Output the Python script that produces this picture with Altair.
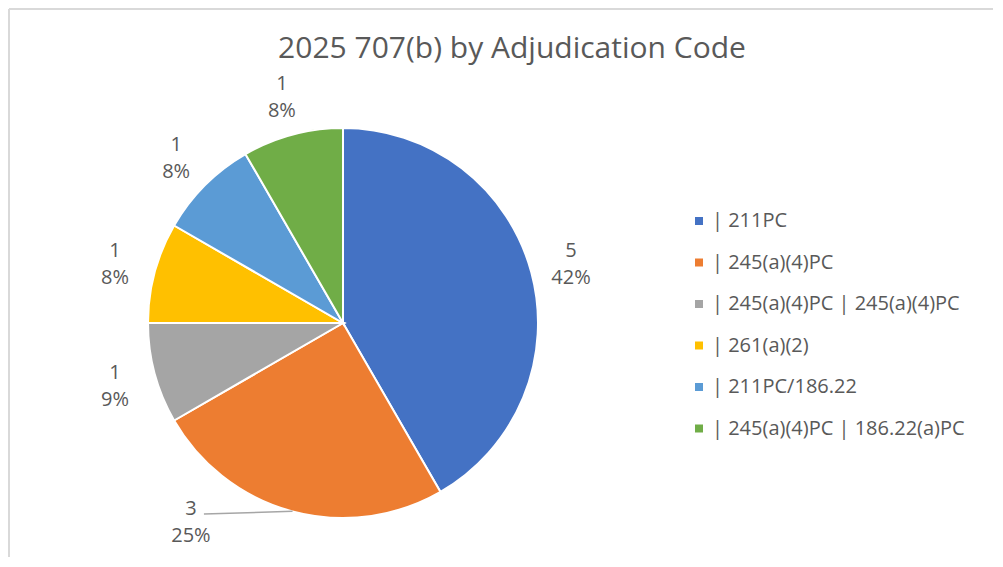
import math
import altair as alt
import pandas as pd

# ---- data ----
categories = [
    "| 211PC",
    "| 245(a)(4)PC",
    "| 245(a)(4)PC | 245(a)(4)PC",
    "| 261(a)(2)",
    "| 211PC/186.22",
    "| 245(a)(4)PC | 186.22(a)PC",
]
counts = [5, 3, 1, 1, 1, 1]
percent_labels = ["42%", "25%", "9%", "8%", "8%", "8%"]
colors = ["#4472C4", "#ED7D31", "#A5A5A5", "#FFC000", "#5B9BD5", "#70AD47"]
title_text = "2025 707(b) by Adjudication Code"

# ---- layout ----
W, H = 985, 549
CX, CY = 335, 315
R = 195
LABEL_R = 236
LINE_H = 27
MOVED = 1  # the orange label is pulled out with a leader line
MOVED_DX, MOVED_DY = -91, -42
FONT = "Open Sans"
TXT = "#595959"

labels = [f"{c}\n{p}" for c, p in zip(counts, percent_labels)]
df = pd.DataFrame({
    "cat": categories,
    "value": counts,
    "order": list(range(len(counts))),
    "lab_main": [("" if i == MOVED else l) for i, l in enumerate(labels)],
    "lab_moved": [(l if i == MOVED else "") for i, l in enumerate(labels)],
})

# leader line for the moved label, derived from the slice's mid angle
total = sum(counts)
mid = (sum(counts[:MOVED]) + counts[MOVED] / 2) / total * 2 * math.pi
lab_x = CX + LABEL_R * math.sin(mid) + MOVED_DX
lab_y = CY - LABEL_R * math.cos(mid) + MOVED_DY
leader = pd.DataFrame({
    "x": [lab_x + 13], "y": [lab_y + 5],
    "x2": [CX + R * math.sin(mid)], "y2": [CY - R * math.cos(mid)],
})

base = alt.Chart(df).encode(
    theta=alt.Theta("value:Q", stack=True),
    order=alt.Order("order:Q"),
)

arc = base.mark_arc(outerRadius=R, stroke="white", strokeWidth=2).encode(
    x=alt.value(CX), y=alt.value(CY),
    color=alt.Color(
        "cat:N",
        scale=alt.Scale(domain=categories, range=colors),
        sort=categories,
        legend=alt.Legend(
            title=None, orient="none", legendX=681, legendY=203,
            symbolType="square", symbolSize=64, symbolStrokeWidth=0,
            labelFontSize=20, labelFont=FONT, labelColor=TXT,
            labelOffset=3, rowPadding=21.5, padding=0, labelLimit=400,
        ),
    ),
)

text_main = base.mark_text(
    radius=LABEL_R, fontSize=20, font=FONT, color=TXT,
    lineBreak="\n", lineHeight=LINE_H, align="center", baseline="middle",
    dy=-11,
).encode(x=alt.value(CX), y=alt.value(CY), text="lab_main:N")

text_moved = base.mark_text(
    radius=LABEL_R, fontSize=20, font=FONT, color=TXT,
    lineBreak="\n", lineHeight=LINE_H, align="center", baseline="middle",
    dx=MOVED_DX, dy=MOVED_DY,
).encode(x=alt.value(CX), y=alt.value(CY), text="lab_moved:N")

lead = alt.Chart(leader).mark_rule(color="#A6A6A6", strokeWidth=1.5).encode(
    x=alt.X("x:Q", scale=None), y=alt.Y("y:Q", scale=None),
    x2="x2:Q", y2="y2:Q",
)

title = alt.Chart(pd.DataFrame({"t": [title_text]})).mark_text(
    fontSize=30, font=FONT, color=TXT, align="center", baseline="middle",
).encode(x=alt.value(504), y=alt.value(41), text="t:N")

border_l = alt.Chart(pd.DataFrame({"a": [0]})).mark_rule(
    color="#D9D9D9", strokeWidth=2
).encode(x=alt.value(1), y=alt.value(1), y2=alt.value(H))
border_t = alt.Chart(pd.DataFrame({"a": [0]})).mark_rule(
    color="#D9D9D9", strokeWidth=2
).encode(x=alt.value(1), x2=alt.value(W), y=alt.value(1))

chart = alt.layer(
    border_l, border_t, arc, lead, text_main, text_moved, title
).properties(
    width=W, height=H,
    autosize=alt.AutoSizeParams(type="none"),
    padding=0,
    background="white",
).configure_view(strokeWidth=0)

chart.save("out.html", embed_options={"renderer": "svg", "actions": False})
